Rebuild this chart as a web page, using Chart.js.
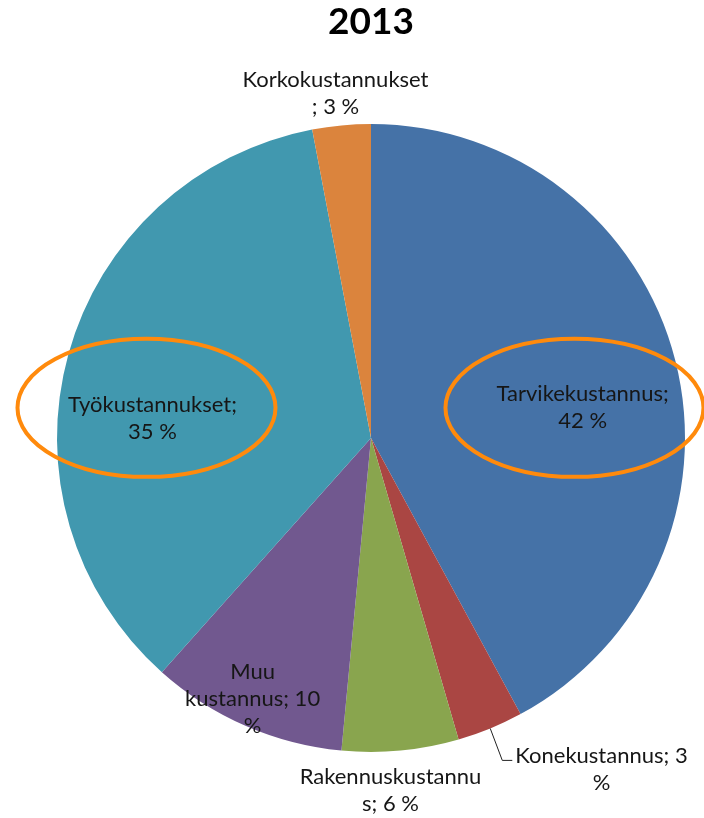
<!DOCTYPE html>
<html>
<head>
<meta charset="utf-8">
<script src="https://cdn.jsdelivr.net/npm/chart.js@4"></script>
<style>
  html, body { margin: 0; padding: 0; background: #fff; }
  #wrap { width: 704px; height: 818px; }
</style>
</head>
<body>
<div id="wrap"><canvas id="pie"></canvas></div>
<script>
// data (shares in %)
const categories = ['Tarvikekustannus', 'Konekustannus', 'Rakennuskustannus', 'Muu kustannus', 'Työkustannukset', 'Korkokustannukset'];
const shares = [42.1, 3.4, 6.0, 10.1, 35.4, 3.0];
const sliceColors = ['#4572A7', '#AA4643', '#89A54E', '#71588F', '#4198AF', '#DB843D'];
const chartTitle = '2013';

// where the data labels wrap (character index in "name; n %") -- Excel wrapping
const labelBreaks = [[17], [16], [16], [3, 17], [16], [17]];
// label centre as offset from pie centre, in radii
const labelPos = [[0.674, -0.099], [0.734, 1.057], [0.062, 1.123], [-0.377, 0.831], [-0.696, -0.061], [-0.113, -1.099]];
// orange call-out ellipses: slice index, centre offset from pie centre (radii)
const callouts = [[0, 0.648, -0.096], [4, -0.715, -0.096]];

const FONT = 'Lato, "Open Sans", sans-serif';

function labelLines(i) {
    const txt = categories[i] + '; ' + Math.round(shares[i]) + ' %';
    const out = [];
    let from = 0;
    labelBreaks[i].forEach(b => { out.push(txt.slice(from, b).trim()); from = b; });
    out.push(txt.slice(from).trim());
    return out;
}

const labelPlugin = {
    id: 'pieLabels',
    afterDatasetsDraw(chart) {
        const ctx = chart.ctx;
        const arc0 = chart.getDatasetMeta(0).data[0];
        const cx = arc0.x, cy = arc0.y, R = arc0.outerRadius;
        const lh = 27;
        ctx.save();
        ctx.font = '22px ' + FONT;
        ctx.fillStyle = '#161616';
        ctx.textAlign = 'center';
        ctx.textBaseline = 'middle';
        chart.getDatasetMeta(0).data.forEach((arc, i) => {
            const lines = labelLines(i);
            const lx = cx + labelPos[i][0] * R;
            const ly = cy + labelPos[i][1] * R;
            const top = ly - (lines.length - 1) * lh / 2;
            lines.forEach((t, k) => ctx.fillText(t, lx, top + k * lh));

            // leader line for the small Kone slice
            if (i === 1) {
                const mid = (arc.startAngle + arc.endAngle) / 2;
                const ex = cx + Math.cos(mid) * R, ey = cy + Math.sin(mid) * R;
                const w = ctx.measureText(lines[0]).width;
                const tx = lx - w / 2 - 3;
                ctx.beginPath();
                ctx.strokeStyle = '#222';
                ctx.lineWidth = 1;
                ctx.moveTo(ex, ey);
                ctx.lineTo(tx - 10, top + 4);
                ctx.lineTo(tx, top + 4);
                ctx.stroke();
            }
        });

        ctx.strokeStyle = '#FF8A0C';
        ctx.lineWidth = 4;
        callouts.forEach(([i, fx, fy]) => {
            ctx.beginPath();
            ctx.ellipse(cx + fx * R, cy + fy * R, 129, 69, 0, 0, Math.PI * 2);
            ctx.stroke();
        });
        ctx.restore();
    }
};

new Chart(document.getElementById('pie'), {
    type: 'pie',
    data: {
        labels: categories,
        datasets: [{
            data: shares,
            backgroundColor: sliceColors,
            borderWidth: 0
        }]
    },
    options: {
        responsive: true,
        maintainAspectRatio: false,
        animation: false,
        layout: { padding: { left: 57, right: 19, top: 0, bottom: 66 } },
        plugins: {
            legend: { display: false },
            tooltip: { enabled: false },
            title: {
                display: true,
                text: chartTitle,
                color: '#000',
                font: { family: FONT, size: 37, weight: 'bold', lineHeight: 1.2 },
                padding: { top: 0, bottom: 79.6 }
            }
        }
    },
    plugins: [labelPlugin]
});
</script>
</body>
</html>
